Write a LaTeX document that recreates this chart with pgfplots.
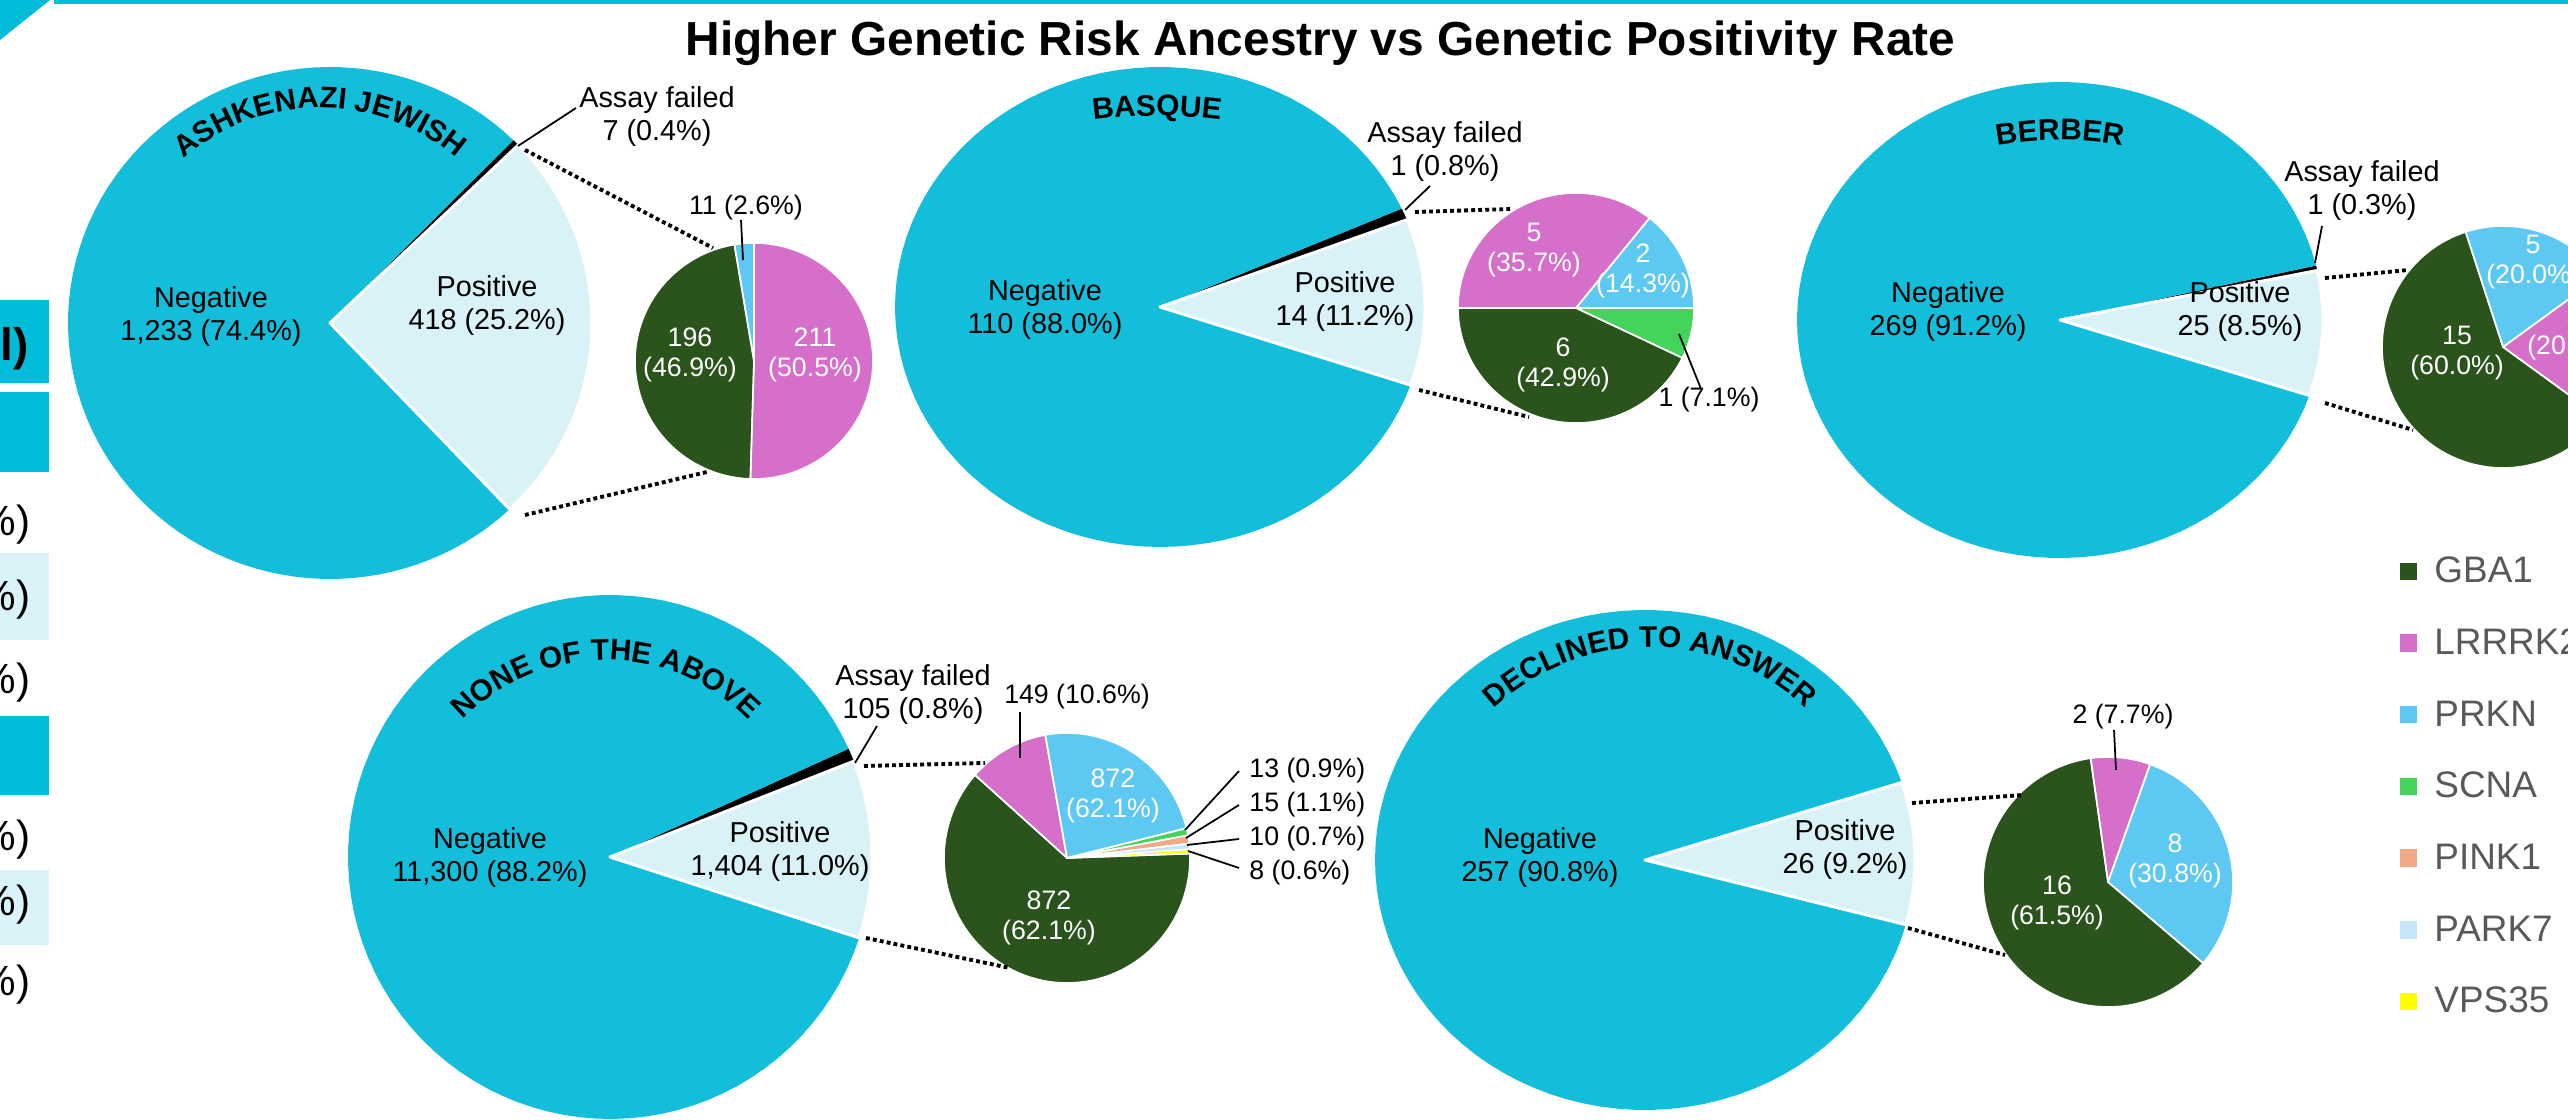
\documentclass[border=0pt]{standalone}
\usepackage{pgfplots}
\pgfplotsset{compat=1.18}
\usepackage{fontspec}
\setmainfont{Liberation Sans}
\usetikzlibrary{decorations.text}

\definecolor{negc}{HTML}{13BEDA}
\definecolor{posc}{HTML}{D9F2F8}
\definecolor{gba}{HTML}{2B531C}
\definecolor{lrrk}{HTML}{D56FC9}
\definecolor{prkn}{HTML}{5DC9F2}
\definecolor{scna}{HTML}{45D45B}
\definecolor{pinkc}{HTML}{F0A984}
\definecolor{parkc}{HTML}{C3E5F5}
\definecolor{vpsc}{HTML}{FFFF00}
\definecolor{accent}{HTML}{00BCD9}
\definecolor{accentlight}{HTML}{D9F3F9}
\definecolor{legtext}{HTML}{595959}

\newcommand{\titlefont}{\fontsize{13.6}{16}\selectfont\bfseries}
\newcommand{\labfont}{\fontsize{8.2}{9.4}\selectfont}
\newcommand{\slicefont}{\fontsize{7.6}{8.6}\selectfont}
\newcommand{\groupfont}{\fontsize{8.5}{10}\selectfont\bfseries}
\newcommand{\stripfont}{\fontsize{12}{14}\selectfont}

\tikzset{
  dotline/.style={black, line width=1.1pt, dash pattern=on 1.1pt off 0.9pt},
  leader/.style={black, line width=0.5pt},
}

% One pie: centre x, centre y (measured downwards), radius x, radius y,
% start angle, sense (1 = counter-clockwise, -1 = clockwise),
% list of count/colour/white-edge-width.
\newcommand{\drawpie}[7]{%
  \gdef\pietotal{0}%
  \foreach \v/\c/\w in {#7}{\pgfmathsetmacro\tmp{\pietotal+\v}\xdef\pietotal{\tmp}}%
  \foreach \pass in {1,2}{%
    \xdef\pieangle{#5}%
    \foreach \v/\c/\w in {#7}{%
      \pgfmathsetmacro\aend{\pieangle+(#6)*360*(\v/\pietotal)}%
      \pgfmathsetmacro\amin{min(\pieangle,\aend)}%
      \pgfmathsetmacro\amax{max(\pieangle,\aend)}%
      \ifnum\pass=1
        \edef\doslice{\noexpand\addplot[fill=\c, draw=none, domain=\amin:\amax, samples=90, variable=\noexpand\t]
          ({#1+#3*cos(\noexpand\t)},{-#2+#4*sin(\noexpand\t)}) -- (axis cs:#1,-#2) -- cycle;}%
        \doslice
      \else
        \ifdim\w pt>0pt
          \edef\doslice{\noexpand\addplot[draw=white, fill=none, line width=\w pt, line join=round, domain=\amin:\amax, samples=90, variable=\noexpand\t]
            ({#1+#3*cos(\noexpand\t)},{-#2+#4*sin(\noexpand\t)}) -- (axis cs:#1,-#2) -- cycle;}%
          \doslice
        \fi
      \fi
      \xdef\pieangle{\aend}%
    }%
  }%
}

% Curved group name: centre x, centre y (downwards), radius, from angle, to angle, text
\newcommand{\arclabel}[6]{%
  \path[decorate, decoration={text along path, text align=center, text={|\groupfont|#6}}]
    ([shift={(#4:#3)}]axis cs:#1,-#2) arc[start angle=#4, end angle=#5, radius=#3];
}

\begin{document}
\begin{tikzpicture}
\useasboundingbox (0,0) rectangle (25.68cm,11.2cm);
\clip (0,0) rectangle (25.68cm,11.2cm);
\begin{axis}[
  at={(0,0)}, anchor=south west,
  width=25.68cm, height=11.2cm, scale only axis,
  xmin=0, xmax=2568, ymin=-1120, ymax=0,
  hide axis, clip=false,
  legend cell align=left,
  legend style={at={(axis cs:2400,-556)}, anchor=north west, draw=none, fill=none,
    inner sep=0pt, outer sep=0pt, font=\fontsize{10.5}{12}\selectfont, text=legtext,
    row sep=12.8pt, column sep=0.17cm,
    nodes={inner sep=0pt, text height=7.6pt, text depth=0pt}},
]
% legend of the gene colours
\addlegendimage{legend image code/.code={\fill[gba] (0cm,-0.10cm) rectangle (0.16cm,0.06cm);}}
\addlegendentry{GBA1}
\addlegendimage{legend image code/.code={\fill[lrrk] (0cm,-0.10cm) rectangle (0.16cm,0.06cm);}}
\addlegendentry{LRRRK2}
\addlegendimage{legend image code/.code={\fill[prkn] (0cm,-0.10cm) rectangle (0.16cm,0.06cm);}}
\addlegendentry{PRKN}
\addlegendimage{legend image code/.code={\fill[scna] (0cm,-0.10cm) rectangle (0.16cm,0.06cm);}}
\addlegendentry{SCNA}
\addlegendimage{legend image code/.code={\fill[pinkc] (0cm,-0.10cm) rectangle (0.16cm,0.06cm);}}
\addlegendentry{PINK1}
\addlegendimage{legend image code/.code={\fill[parkc] (0cm,-0.10cm) rectangle (0.16cm,0.06cm);}}
\addlegendentry{PARK7}
\addlegendimage{legend image code/.code={\fill[vpsc] (0cm,-0.10cm) rectangle (0.16cm,0.06cm);}}
\addlegendentry{VPS35}

% slide frame
\fill[accent] (axis cs:54,0) rectangle (axis cs:2568,-4);
\fill[accent] (axis cs:0,0) -- (axis cs:50,0) -- (axis cs:0,-40) -- cycle;

% table strip on the left
\fill[accent] (axis cs:0,-300) rectangle (axis cs:49,-383);
\fill[accent] (axis cs:0,-392) rectangle (axis cs:49,-472);
\fill[accentlight] (axis cs:0,-553) rectangle (axis cs:49,-640);
\fill[accent] (axis cs:0,-716) rectangle (axis cs:49,-795);
\fill[accentlight] (axis cs:0,-870) rectangle (axis cs:49,-945);
\node[anchor=base east, inner sep=0pt, font=\fontsize{13}{15}\selectfont\bfseries] at (axis cs:29,-361) {l)};
\node[anchor=base east, inner sep=0pt, font=\stripfont] at (axis cs:31,-536) {\%)};
\node[anchor=base east, inner sep=0pt, font=\stripfont] at (axis cs:31,-611) {\%)};
\node[anchor=base east, inner sep=0pt, font=\stripfont] at (axis cs:31,-694) {\%)};
\node[anchor=base east, inner sep=0pt, font=\stripfont] at (axis cs:31,-851) {\%)};
\node[anchor=base east, inner sep=0pt, font=\stripfont] at (axis cs:31,-916) {\%)};
\node[anchor=base east, inner sep=0pt, font=\stripfont] at (axis cs:31,-996) {\%)};

% title
\node[anchor=base west, inner sep=0pt, font=\titlefont] at (axis cs:685,-56)
  {Higher Genetic Risk Ancestry vs Genetic Positivity Rate};

% ---------------- Ashkenazi Jewish ----------------
% Positive / Assay failed / Negative
\drawpie{330}{323}{262}{256}{-46.7}{1}{418/posc/0.85, 7/black/0, 1233/negc/0}
% GBA1 = 196, LRRK2 = 211, PRKN = 11
\drawpie{754}{361}{119}{118}{90}{-1}{211/lrrk/0.45, 196/gba/0.45, 11/prkn/0.45}
\arclabel{320}{318}{2.1cm}{131.5}{48.5}{ASHKENAZI JEWISH}
\node[font=\labfont, align=center] at (axis cs:211,-317) {Negative\\1,233 (74.4\%)};
\node[font=\labfont, align=center] at (axis cs:487,-306) {Positive\\418 (25.2\%)};
\node[font=\labfont, align=center] at (axis cs:657,-117) {Assay failed\\7 (0.4\%)};
\draw[leader] (axis cs:576,-108) -- (axis cs:518,-146);
\draw[dotline] (axis cs:525,-150) -- (axis cs:713,-248);
\draw[dotline] (axis cs:525,-515) -- (axis cs:707,-472);
\node[font=\slicefont, align=center, text=white] at (axis cs:815,-355) {211\\(50.5\%)};
\node[font=\slicefont, align=center, text=white] at (axis cs:690,-355) {196\\(46.9\%)};
\node[font=\slicefont] at (axis cs:746,-208) {11 (2.6\%)};
\draw[leader] (axis cs:741,-220) -- (axis cs:743,-260);

% ---------------- Basque ----------------
\drawpie{1160}{307}{265}{240}{-19}{1}{14/posc/0.85, 1/black/0, 110/negc/0}
% LRRK2 = 5, PRKN = 2, SCNA = 1, GBA1 = 6
\drawpie{1576}{308}{118}{115}{180}{-1}{5/lrrk/0.45, 2/prkn/0.45, 1/scna/0.45, 6/gba/0.45}
\arclabel{1157}{616}{5cm}{99}{81}{BASQUE}
\node[font=\labfont, align=center] at (axis cs:1045,-310) {Negative\\110 (88.0\%)};
\node[font=\labfont, align=center] at (axis cs:1345,-302) {Positive\\14 (11.2\%)};
\node[font=\labfont, align=center] at (axis cs:1445,-152) {Assay failed\\1 (0.8\%)};
\draw[leader] (axis cs:1430,-186) -- (axis cs:1405,-210);
\draw[dotline] (axis cs:1415,-212) -- (axis cs:1511,-209);
\draw[dotline] (axis cs:1419,-390) -- (axis cs:1529,-417);
\node[font=\slicefont, align=center, text=white] at (axis cs:1534,-250) {5\\(35.7\%)};
\node[font=\slicefont, align=center, text=white] at (axis cs:1643,-271) {2\\(14.3\%)};
\node[font=\slicefont, align=center, text=white] at (axis cs:1563,-365) {6\\(42.9\%)};
\node[font=\slicefont] at (axis cs:1709,-400) {1 (7.1\%)};
\draw[leader] (axis cs:1679,-334) -- (axis cs:1701,-389);

% ---------------- Berber ----------------
\drawpie{2060}{320}{263}{238}{-18.5}{1}{25/posc/0.85, 1/black/0, 269/negc/0}
% PRKN = 5, LRRK2 = 5, GBA1 = 15
\drawpie{2503}{347}{121}{121}{108}{-1}{5/prkn/0.45, 5/lrrk/0.45, 15/gba/0.45}
\arclabel{2060}{490}{3.5cm}{102}{78}{BERBER}
\node[font=\labfont, align=center] at (axis cs:1948,-312) {Negative\\269 (91.2\%)};
\node[font=\labfont, align=center] at (axis cs:2240,-312) {Positive\\25 (8.5\%)};
\node[font=\labfont, align=center] at (axis cs:2362,-191) {Assay failed\\1 (0.3\%)};
\draw[leader] (axis cs:2322,-226) -- (axis cs:2315,-263);
\draw[dotline] (axis cs:2325,-278) -- (axis cs:2408,-270);
\draw[dotline] (axis cs:2325,-403) -- (axis cs:2413,-430);
\node[font=\slicefont, align=center, text=white] at (axis cs:2533,-262) {5\\(20.0\%)};
\node[font=\slicefont, align=center, text=white] at (axis cs:2457,-353) {15\\(60.0\%)};
\node[font=\slicefont, align=center, text=white] at (axis cs:2574,-333) {5\\(20.0\%)};

% ---------------- None of the above ----------------
\drawpie{610}{857}{262}{262}{-18}{1}{1404/posc/0.85, 105/black/0, 11300/negc/0}
% PRKN counted as the remainder of the 1,404 positives
\drawpie{1067}{858}{123}{125}{100.2}{-1}{337/prkn/0.45, 13/scna/0.45, 15/pinkc/0.45, 10/parkc/0.45, 8/vpsc/0.45, 872/gba/0.45, 149/lrrk/0.45}
\arclabel{606}{860}{2.0cm}{135.5}{44.5}{NONE OF THE ABOVE}
\node[font=\labfont, align=center] at (axis cs:490,-858) {Negative\\11,300 (88.2\%)};
\node[font=\labfont, align=center] at (axis cs:780,-852) {Positive\\1,404 (11.0\%)};
\node[font=\labfont, align=center] at (axis cs:913,-695) {Assay failed\\105 (0.8\%)};
\draw[leader] (axis cs:877,-726) -- (axis cs:855,-763);
\draw[dotline] (axis cs:864,-766) -- (axis cs:985,-763);
\draw[dotline] (axis cs:866,-938) -- (axis cs:1010,-968);
\node[font=\slicefont] at (axis cs:1077,-697) {149 (10.6\%)};
\draw[leader] (axis cs:1020,-712) -- (axis cs:1020,-758);
\node[font=\slicefont, align=center, text=white] at (axis cs:1113,-796) {872\\(62.1\%)};
\node[font=\slicefont, align=center, text=white] at (axis cs:1049,-918) {872\\(62.1\%)};
\node[font=\slicefont, anchor=west] at (axis cs:1237,-771) {13 (0.9\%)};
\node[font=\slicefont, anchor=west] at (axis cs:1237,-805) {15 (1.1\%)};
\node[font=\slicefont, anchor=west] at (axis cs:1237,-839) {10 (0.7\%)};
\node[font=\slicefont, anchor=west] at (axis cs:1237,-873) {8 (0.6\%)};
\draw[leader] (axis cs:1239,-771) -- (axis cs:1185,-830);
\draw[leader] (axis cs:1239,-805) -- (axis cs:1186,-838);
\draw[leader] (axis cs:1239,-839) -- (axis cs:1187,-845);
\draw[leader] (axis cs:1239,-868) -- (axis cs:1188,-851);

% ---------------- Declined to answer ----------------
\drawpie{1645}{860}{270}{250}{-15}{1}{26/posc/0.85, 257/negc/0}
% LRRK2 = 2, PRKN = 8, GBA1 = 16
\drawpie{2108}{882}{125}{125}{98}{-1}{2/lrrk/0.45, 8/prkn/0.45, 16/gba/0.45}
\arclabel{1650}{877}{2.3cm}{132.7}{47.3}{DECLINED TO ANSWER}
\node[font=\labfont, align=center] at (axis cs:1540,-858) {Negative\\257 (90.8\%)};
\node[font=\labfont, align=center] at (axis cs:1845,-850) {Positive\\26 (9.2\%)};
\draw[dotline] (axis cs:1912,-803) -- (axis cs:2023,-795);
\draw[dotline] (axis cs:1908,-928) -- (axis cs:2005,-955);
\node[font=\slicefont] at (axis cs:2123,-717) {2 (7.7\%)};
\draw[leader] (axis cs:2114,-730) -- (axis cs:2116,-770);
\node[font=\slicefont, align=center, text=white] at (axis cs:2175,-861) {8\\(30.8\%)};
\node[font=\slicefont, align=center, text=white] at (axis cs:2057,-903) {16\\(61.5\%)};
\end{axis}
\end{tikzpicture}
\end{document}
